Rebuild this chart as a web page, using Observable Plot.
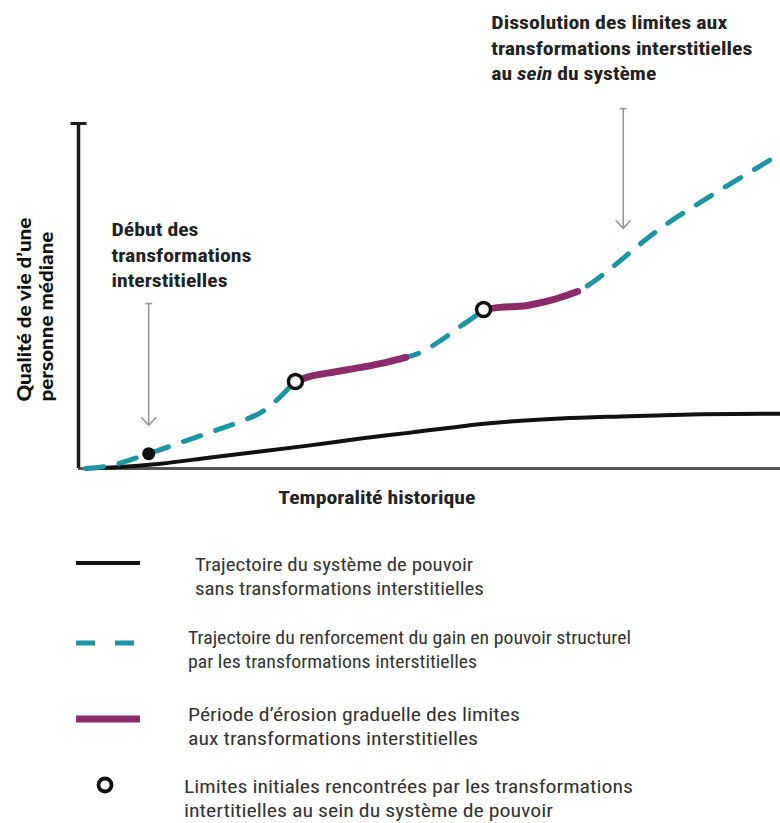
<!DOCTYPE html>
<html><head><meta charset="utf-8">
<script src="https://cdn.jsdelivr.net/npm/d3@7"></script>
<script src="https://cdn.jsdelivr.net/npm/@observablehq/plot@0.6"></script>
<style>
body{margin:0;background:#fff;}
#wrap{width:780px;height:823px;position:relative;overflow:hidden;background:#fff;}
#wrap svg.plot{position:absolute;left:0;top:0;}
.row{position:absolute;left:0;height:48px;width:780px;}
.sw{position:absolute;left:76px;top:0;}
.txt{position:absolute;top:0;font-size:18px;line-height:24px;color:#333;white-space:nowrap;}
.txt span{display:block;width:max-content;transform-origin:0 50%;}
</style></head><body><div id="wrap"></div>
<script>
// ---------- data ----------
// abstract units: x = historical time 0..100, y = quality of life 0..100
const baselineX = [1, 4.6, 11.7, 18.8, 25.9, 33, 40.2, 47.3, 54.4, 61.5, 68.7, 77.2, 88.6, 100];
const baselineY = [0, 0.3, 1.4, 3.2, 4.9, 6.7, 8.7, 10.4, 12.2, 13.6, 14.5, 15.1, 15.7, 15.9];

const reinforceX = [1, 4.6, 10, 14.5, 19.5, 23.8, 25.7, 27.4, 29.2, 30.9, 33, 35.9, 40.2, 43.7, 46.6, 48.7, 51.6, 54.4, 56.6, 57.7, 60.1, 63.7, 67.2, 71.1, 73.6, 76.5, 80.1, 82.9, 87.2, 92.2, 97.2, 98.9];
const reinforceY = [0, 0.9, 4.3, 7.5, 11, 14.2, 15.9, 18.3, 21.7, 25.2, 26.7, 27.8, 29.3, 30.7, 32.2, 33.6, 37.1, 41.2, 44.3, 46.1, 46.7, 47.2, 48.7, 51.3, 54.5, 59.1, 65.2, 69.6, 75.4, 81.7, 87.8, 89.9];

const erosionStart = [30.9, 57.7];
const erosionEnd = [46.6, 71.1];

const limitX = [30.9, 57.7];
const limitY = [25.2, 46.1];

const beginX = [10];
const beginY = [4.3];

const annotationText = [
  "Début des\ntransformations\ninterstitielles",
  "Dissolution des limites aux\ntransformations interstitielles\nau sein du système"
];
const annotationX = [4.7, 58.8];
const annotationY = [52.5, 112.5];

const arrowX = [10, 77.6];
const arrowTop = [47.8, 104.3];
const arrowTip = [12.5, 69.6];

const xLabel = "Temporalité historique";
const xLabelX = 42.5;
const yLabel = "Qualité de vie d’une\npersonne médiane";
const yLabelY = 19.4;
const yTop = [100];

const legendKinds = ["baseline", "reinforce", "erosion", "limit"];
const legendLines = [
  ["Trajectoire du système de pouvoir", "sans transformations interstitielles"],
  ["Trajectoire du renforcement du gain en pouvoir structurel", "par les transformations interstitielles"],
  ["Période d’érosion graduelle des limites", "aux transformations interstitielles"],
  ["Limites initiales rencontrées par les transformations", "intertitielles au sein du système de pouvoir"]
];

// ---------- styles / layout ----------
const TEAL = "#1b95a2", PURPLE = "#8c2b69", INK = "#111", GREY = "#999";
const fitWidths = {
  "Début des": 87, "transformations": 140, "interstitielles": 116,
  "Dissolution des limites aux": 236, "transformations interstitielles": 261, "au sein du système": 165,
  "Temporalité historique": 197, "Qualité de vie d’une": 184, "personne médiane": 170
};
const legendLayout = {
  top: [553, 626, 703, 775],
  textLeft: [195, 188, 188, 184],
  widths: [[278, 289], [443, 289], [332, 290], [449, 369]],
  swatchY: {baseline: 10, reinforce: 17, erosion: 16, limit: 10}
};

function hasFont(f) {
  const c = document.createElement("canvas").getContext("2d");
  const s = "Trajectoire du système mmmwwwiii";
  c.font = "18px monospace"; const a = c.measureText(s).width;
  c.font = `18px "${f}", monospace`; const b = c.measureText(s).width;
  return a !== b;
}
const condensed = hasFont("Roboto Condensed") ? "'Roboto Condensed', Roboto, sans-serif" : "Roboto, 'Liberation Sans', sans-serif";

// ---------- build tables ----------
const baseline = baselineX.map((x, i) => ({x, y: baselineY[i]}));
const reinforce = reinforceX.map((x, i) => ({x, y: reinforceY[i]}));
const erosion = reinforce.flatMap(d => {
  const k = erosionStart.findIndex((s, j) => d.x >= s && d.x <= erosionEnd[j]);
  return k < 0 ? [] : [{...d, seg: k}];
});
const limits = limitX.map((x, i) => ({x, y: limitY[i]}));
const begins = beginX.map((x, i) => ({x, y: beginY[i]}));
const annotations = annotationText.map((t, i) => ({t, x: annotationX[i], y: annotationY[i]}));
const arrows = arrowX.map((x, i) => ({x, top: arrowTop[i], tip: arrowTip[i]}));

const hline = {draw(ctx, size) { const r = Math.sqrt(size / Math.PI); ctx.moveTo(-r, 0); ctx.lineTo(r, 0); }};

const svg = Plot.plot({
  width: 780, height: 530,
  marginLeft: 78, marginRight: 0, marginTop: 123, marginBottom: 62,
  x: {domain: [0, 100], axis: null},
  y: {domain: [0, 100], axis: null},
  style: {fontFamily: condensed, overflow: "visible", background: "white"},
  marks: [
    Plot.ruleY([0], {stroke: "#555", strokeWidth: 3}),
    Plot.ruleX([0], {y1: 0, y2: 100, stroke: "#1a1a1a", strokeWidth: 3.5}),
    Plot.dot(yTop, {x: () => 0, y: d => d, symbol: hline, r: 8, stroke: "#1a1a1a", strokeWidth: 3}),
    Plot.line(baseline, {x: "x", y: "y", curve: "monotone-x", stroke: INK, strokeWidth: 4}),
    Plot.line(reinforce, {x: "x", y: "y", curve: "monotone-x", stroke: TEAL, strokeWidth: 5, strokeDasharray: "18,16"}),
    Plot.line(erosion, {x: "x", y: "y", z: "seg", curve: "monotone-x", stroke: PURPLE, strokeWidth: 7}),
    Plot.dot(limits, {x: "x", y: "y", r: 7, fill: "white", stroke: INK, strokeWidth: 3.5}),
    Plot.dot(begins, {x: "x", y: "y", r: 6.5, fill: INK}),
    Plot.arrow(arrows, {x: "x", y1: "top", y2: "tip", stroke: GREY, strokeWidth: 1.6, headLength: 10, headAngle: 85}),
    Plot.dot(arrows, {x: "x", y: "top", symbol: hline, r: 3.5, stroke: GREY, strokeWidth: 1.6}),
    Plot.text(annotations, {x: "x", y: "y", text: "t", textAnchor: "start", lineAnchor: "bottom",
      fontSize: 19, fontWeight: 700, lineHeight: 1.36, fill: "#222"}),
    Plot.text([xLabel], {x: () => xLabelX, frameAnchor: "bottom", text: d => d, dy: 35, lineAnchor: "bottom",
      textAnchor: "middle", fontSize: 18, fontWeight: 700, fill: "#222"}),
    Plot.text([yLabel], {frameAnchor: "left", y: () => yLabelY, text: d => d, rotate: -90, dx: -26,
      textAnchor: "start", lineAnchor: "bottom", fontSize: 19.5, fontWeight: 900, lineHeight: 1.08,
      fontFamily: "Lato, 'Open Sans', sans-serif", fill: "#111"})
  ]
});
svg.classList.add("plot");
const wrap = document.getElementById("wrap");
wrap.appendChild(svg);

// italic "sein" + width fitting
svg.querySelectorAll("text, tspan").forEach(el => {
  if (el.children.length) return;
  const s = el.textContent;
  if (s === "au sein du système") {
    el.textContent = "";
    el.appendChild(document.createTextNode("au "));
    const it = document.createElementNS("http://www.w3.org/2000/svg", "tspan");
    it.setAttribute("font-style", "italic"); it.textContent = "sein";
    el.appendChild(it);
    el.appendChild(document.createTextNode(" du système"));
  }
  if (fitWidths[s]) {
    el.setAttribute("textLength", fitWidths[s]);
    el.setAttribute("lengthAdjust", "spacingAndGlyphs");
  }
});

// ---------- legend ----------
const NS = "http://www.w3.org/2000/svg";
legendKinds.forEach((kind, i) => {
  const row = document.createElement("div");
  row.className = "row"; row.style.top = legendLayout.top[i] + "px";
  const sw = document.createElementNS(NS, "svg");
  sw.setAttribute("class", "sw"); sw.setAttribute("width", 66); sw.setAttribute("height", 48);
  const y = legendLayout.swatchY[kind];
  let el;
  if (kind === "limit") {
    el = document.createElementNS(NS, "circle");
    el.setAttribute("cx", 29); el.setAttribute("cy", y); el.setAttribute("r", 6.5);
    el.setAttribute("fill", "white"); el.setAttribute("stroke", INK); el.setAttribute("stroke-width", 3.8);
  } else {
    el = document.createElementNS(NS, "line");
    el.setAttribute("x1", 0); el.setAttribute("y1", y); el.setAttribute("y2", y);
    if (kind === "baseline") { el.setAttribute("x2", 64); el.setAttribute("stroke", INK); el.setAttribute("stroke-width", 4); }
    if (kind === "reinforce") { el.setAttribute("x2", 58); el.setAttribute("stroke", TEAL); el.setAttribute("stroke-width", 5); el.setAttribute("stroke-dasharray", "19,20"); }
    if (kind === "erosion") { el.setAttribute("x2", 64); el.setAttribute("stroke", PURPLE); el.setAttribute("stroke-width", 7); }
  }
  sw.appendChild(el);
  row.appendChild(sw);
  const txt = document.createElement("div");
  txt.className = "txt"; txt.style.left = legendLayout.textLeft[i] + "px"; txt.style.fontFamily = condensed;
  legendLines[i].forEach((line, j) => {
    const sp = document.createElement("span");
    sp.textContent = line;
    txt.appendChild(sp);
  });
  row.appendChild(txt);
  wrap.appendChild(row);
  [...txt.children].forEach((sp, j) => {
    const w = sp.getBoundingClientRect().width;
    const k = legendLayout.widths[i][j] / w;
    sp.style.transform = `scaleX(${k.toFixed(3)})`;
  });
});
</script></body></html>
